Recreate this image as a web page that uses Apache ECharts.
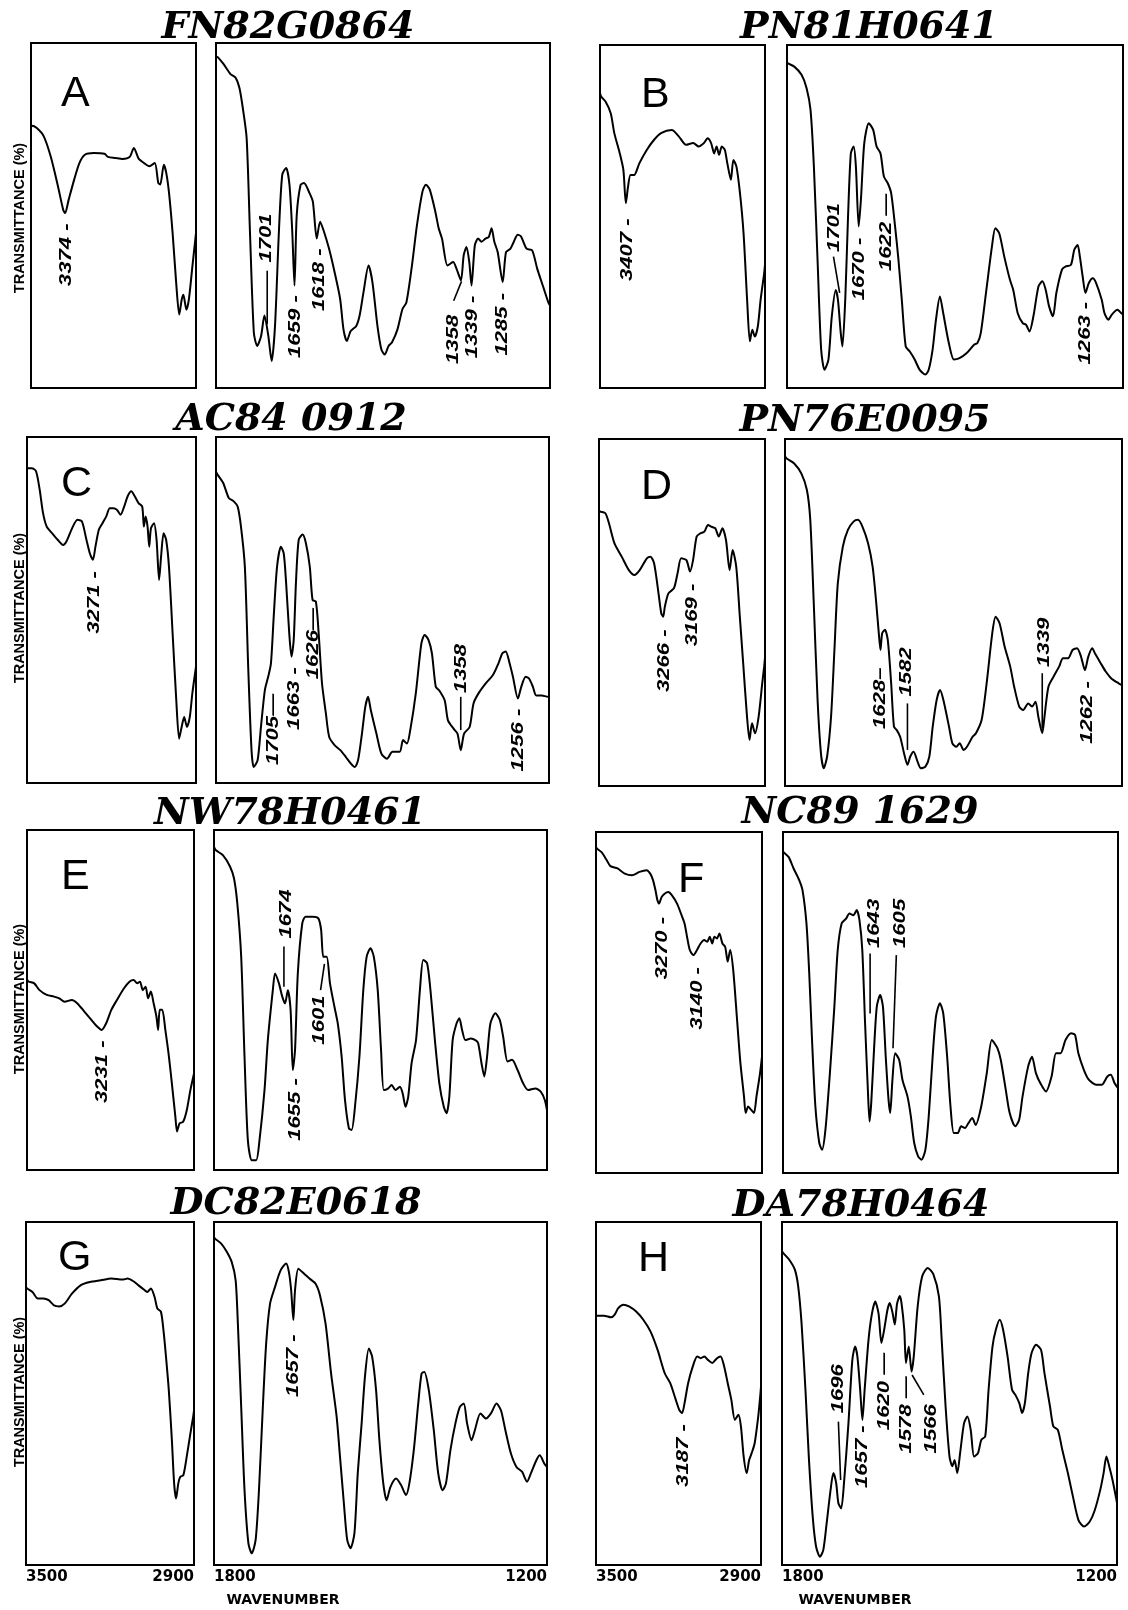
<!DOCTYPE html>
<html><head><meta charset="utf-8">
<script src="https://cdn.jsdelivr.net/npm/echarts@6/dist/echarts.min.js"></script>
<style>html,body{margin:0;padding:0;background:#fff}#c{width:1128px;height:1610px}</style>
</head><body><div id="c"></div>
<script>
// ---------- text ----------
const titles = ['FN82G0864','PN81H0641','AC84 0912','PN76E0095','NW78H0461','NC89 1629','DC82E0618','DA78H0464'];
const letters = ['A','B','C','D','E','F','G','H'];
const yAxisName = 'TRANSMITTANCE (%)';
const xAxisName = 'WAVENUMBER';
const xTicksCH = [2900, 3500];
const xTicksFP = [1200, 1800];

// ---------- spectra: [wavenumber, transmittance (0-100 of box)] ----------
const specA_CH = [[3500,76],[3497,76],[3480,75.4],[3454,73],[3428,67],[3402,58.5],[3383,51.7],[3376,50.7],[3363,54.6],[3343,60.4],[3324,65.2],[3304,67.6],[3272,68.1],[3233,67.9],[3220,67],[3193,66.7],[3167,66.4],[3141,67],[3126,69.6],[3108,66.4],[3089,65.2],[3070,64.3],[3050,65.2],[3037,59.4],[3030,59],[3017,64.7],[3008,62.3],[2998,56.5],[2985,44.9],[2972,30.4],[2961,21.3],[2952,25.6],[2946,27],[2935,22.7],[2926,25.6],[2913,35.3],[2900,44.9]];
const specA_FP = [[1800,96],[1797,95.9],[1787,94],[1774,91],[1765,90],[1758,87],[1752,81.3],[1745,72.5],[1739,45.3],[1732,16],[1726,12.2],[1719,15.1],[1713,21],[1706,15.1],[1700,7.8],[1694,18],[1687,45.3],[1681,61.8],[1674,63.8],[1668,58.9],[1663,45.3],[1659,29.7],[1655,50],[1648,58.9],[1642,59.4],[1632,56.5],[1626,54],[1619,43.3],[1613,48.2],[1606,45.3],[1597,40.4],[1587,33.6],[1577,25.8],[1571,17],[1565,13.6],[1558,16.5],[1548,18],[1542,21],[1535,27.8],[1526,35.5],[1519,30.7],[1510,18],[1503,11.2],[1497,9.7],[1490,12.2],[1484,13.2],[1474,17],[1465,22.9],[1458,24.8],[1448,35.5],[1439,47.2],[1429,57],[1423,58.9],[1416,57.5],[1406,51.1],[1400,46.3],[1394,43.3],[1384,35.5],[1374,36.5],[1368,34.6],[1360,31.2],[1355,38.5],[1350,40.9],[1345,36.5],[1341,29.7],[1335,41.4],[1329,43.3],[1323,42.4],[1316,43.3],[1310,43.8],[1305,46.3],[1300,42.4],[1294,39.4],[1285,30.7],[1279,39.4],[1271,40.4],[1265,42.4],[1258,44.4],[1252,43.9],[1242,40.4],[1232,39.9],[1223,34.6],[1213,29.7],[1203,24.8],[1200,23.9]];
const specB_CH = [[3500,86],[3496,85],[3480,83.5],[3461,80.1],[3448,74.3],[3428,68.4],[3415,63.6],[3406,53.9],[3398,58.7],[3389,62.1],[3376,62.1],[3357,65.5],[3330,69.4],[3304,72.3],[3278,74.3],[3239,75.2],[3213,73.3],[3187,70.9],[3161,71.4],[3141,70.4],[3122,71.4],[3109,72.8],[3096,71.4],[3085,68.4],[3076,70.4],[3067,68],[3057,70.4],[3046,69.4],[3037,65.5],[3024,60.7],[3015,66.5],[3004,64.6],[2991,56.8],[2978,45.1],[2965,25.7],[2955,13.6],[2946,17],[2937,15],[2926,18],[2916,25.7],[2903,33.5],[2900,36]];
const specB_FP = [[1800,95],[1799,94.7],[1787,93.7],[1774,91.3],[1765,87.4],[1758,81.1],[1752,64.6],[1745,35.4],[1739,11.2],[1733,5.3],[1726,8.3],[1720,20.9],[1713,28.6],[1709,25.7],[1704,16],[1701,12.1],[1696,25.7],[1691,50],[1686,68.4],[1681,70.4],[1677,64.6],[1672,47.1],[1668,54.9],[1662,71.4],[1654,77.2],[1646,75.2],[1640,70.4],[1633,68.4],[1627,61.7],[1620,59.7],[1614,56.8],[1607,47.1],[1601,37.4],[1595,25.7],[1588,12.1],[1581,10.7],[1572,8.3],[1563,5.3],[1553,3.9],[1547,5.3],[1540,11.2],[1534,19.9],[1527,26.7],[1521,21.8],[1511,13.1],[1502,8.3],[1492,8.7],[1479,10.2],[1466,12.6],[1460,13.1],[1454,16],[1444,28.6],[1434,41.3],[1428,46.6],[1421,45.1],[1412,38.3],[1402,31.6],[1396,28.6],[1388,21.8],[1379,18.9],[1373,18.4],[1367,16.5],[1360,20.9],[1351,29.6],[1344,31.1],[1338,28.6],[1332,23.8],[1325,20.9],[1319,27.7],[1309,34.5],[1303,35.4],[1293,35.9],[1287,40.3],[1281,41.7],[1277,38.3],[1272,32.5],[1267,27.7],[1261,30.6],[1254,32],[1248,30.6],[1238,25.7],[1233,21.8],[1226,19.9],[1220,21.4],[1210,22.8],[1203,21.8],[1200,21.5]];
const specC_CH = [[3500,91],[3483,91],[3468,90.1],[3455,84.8],[3443,78],[3430,74.1],[3411,72.2],[3391,70.3],[3372,68.8],[3360,69.8],[3340,73.6],[3321,76.1],[3305,75.6],[3289,70.3],[3277,66.4],[3266,64.5],[3257,68.3],[3245,73.2],[3232,75.1],[3219,77],[3206,79.4],[3194,79.4],[3181,79],[3168,77.5],[3155,79.9],[3143,82.8],[3130,84.3],[3117,82.8],[3104,80.9],[3091,79.9],[3085,74.1],[3079,77],[3072,74.1],[3066,68.3],[3060,73.6],[3049,75.1],[3040,70.3],[3031,58.7],[3024,65.4],[3015,72.2],[3006,70.3],[2996,62.5],[2983,43.2],[2970,23.9],[2960,12.8],[2951,16.2],[2942,19.1],[2932,16.2],[2922,19.1],[2913,25.9],[2900,33.6]];
const specC_FP = [[1800,90],[1797,89.1],[1787,86.7],[1777,82.4],[1768,81.4],[1761,79.9],[1755,74.1],[1748,62.5],[1742,33.6],[1736,9.5],[1732,4.6],[1725,6.6],[1719,16.2],[1712,26.8],[1706,30.7],[1701,34.6],[1696,48.1],[1690,62.5],[1683,68.3],[1678,66.4],[1674,58.7],[1668,43.2],[1664,36.5],[1660,41.3],[1656,57.7],[1651,70.3],[1644,71.8],[1638,69.3],[1631,62.5],[1626,52.9],[1620,52.4],[1615,43.2],[1609,28.8],[1602,20.1],[1596,13.3],[1586,10.9],[1576,9.5],[1566,7.5],[1557,5.6],[1550,4.6],[1544,6.6],[1537,14.3],[1531,22],[1526,24.9],[1521,21],[1511,14.3],[1502,8.5],[1492,7],[1482,9],[1469,9],[1463,12.4],[1456,11.4],[1450,15.3],[1440,25.9],[1430,40.3],[1424,42.8],[1417,41.3],[1411,37.5],[1404,27.8],[1398,26.8],[1388,23.9],[1382,18.1],[1372,15.7],[1365,14.3],[1359,9.5],[1353,14.3],[1343,16.2],[1336,23],[1327,25.9],[1314,28.8],[1301,31.2],[1291,34.6],[1284,37.5],[1278,38],[1271,34.6],[1265,30.7],[1256,24.4],[1250,27.8],[1242,30.7],[1236,30.2],[1229,27.8],[1223,25.3],[1213,25.3],[1202,24.9],[1200,24.9]];
const specD_CH = [[3500,79.5],[3496,79.1],[3477,78.6],[3464,75.7],[3444,69.9],[3418,66.1],[3392,62.2],[3372,60.8],[3353,62.2],[3327,65.6],[3314,66.1],[3301,64.2],[3288,57.4],[3275,49.8],[3268,48.8],[3262,51.7],[3249,55.5],[3229,57],[3216,61.3],[3203,65.6],[3184,65.1],[3171,61.8],[3160,65.1],[3147,71.9],[3134,72.8],[3119,73.3],[3106,75.2],[3093,74.7],[3080,74.3],[3067,71.9],[3054,74.3],[3041,70.9],[3028,62.2],[3017,68],[3004,63.2],[2991,48.8],[2978,34.4],[2965,20],[2956,13.3],[2947,18.1],[2936,15.2],[2923,20],[2910,29.6],[2903,34.4],[2900,37]];
const specD_FP = [[1800,95],[1797,94.4],[1784,93],[1771,90.1],[1761,85.3],[1755,76.7],[1749,53.6],[1742,24.8],[1736,9.4],[1731,5.1],[1725,8.5],[1718,20],[1712,39.2],[1706,58.4],[1697,69],[1688,73.8],[1678,76.2],[1670,76.7],[1662,74.7],[1652,69.9],[1644,63.2],[1638,53.6],[1633,44],[1630,39.2],[1627,44],[1622,45],[1617,42.1],[1611,29.6],[1606,17.1],[1601,16.1],[1595,14.2],[1588,9.4],[1582,6.1],[1577,8.5],[1571,9.9],[1564,7],[1558,5.1],[1550,5.6],[1543,8.5],[1537,17.1],[1530,24.8],[1524,27.7],[1518,24.8],[1508,17.1],[1502,12.3],[1495,11.3],[1489,12.3],[1482,10.4],[1476,11.3],[1466,14.2],[1460,15.2],[1450,19],[1441,29.6],[1431,44],[1425,48.8],[1418,46.9],[1409,40.2],[1399,34.4],[1392,28.6],[1383,22.9],[1376,21.9],[1367,23.8],[1360,22.9],[1354,24.3],[1349,20],[1342,15.2],[1338,20],[1331,28.6],[1322,31.5],[1312,34.4],[1305,36.8],[1296,36.8],[1288,39.2],[1280,39.7],[1273,37.3],[1266,33.4],[1260,37.3],[1253,39.7],[1248,38.2],[1238,35.4],[1229,33],[1219,31],[1206,29.6],[1200,29.1]];
const specE_CH = [[3500,56],[3494,55.4],[3474,54.9],[3455,52.9],[3429,51.5],[3403,51],[3384,50.5],[3365,49.5],[3339,50],[3319,49],[3294,46.6],[3268,44.1],[3248,42.2],[3232,41.2],[3216,43.1],[3197,47.1],[3177,50],[3152,53.4],[3132,55.4],[3117,55.9],[3104,54.9],[3094,55.4],[3084,52.9],[3074,53.9],[3065,50.5],[3055,52.5],[3045,49],[3035,45.1],[3029,41.2],[3023,47.1],[3014,47.1],[3003,41.2],[2990,33.3],[2977,23.5],[2967,15.7],[2961,11.3],[2952,13.7],[2939,14.2],[2926,17.6],[2913,23.5],[2900,28.4]];
const specE_FP = [[1800,95],[1797,94.1],[1784,92.6],[1771,89.2],[1764,85.8],[1758,78.4],[1751,62.7],[1745,33.3],[1739,8.8],[1732,2.9],[1724,2.9],[1718,8.8],[1709,23.5],[1703,38.2],[1694,52.9],[1690,57.8],[1683,54.9],[1677,51],[1672,49],[1667,52.9],[1662,47.1],[1658,29.4],[1654,35.3],[1649,57.8],[1641,72.5],[1635,74.5],[1622,74.5],[1612,74],[1607,70.6],[1603,62.7],[1597,62.7],[1591,54.9],[1583,48],[1577,43.1],[1570,33.3],[1564,20.6],[1557,12.3],[1552,11.8],[1546,18.6],[1538,33.3],[1531,52.9],[1525,62.7],[1518,65.2],[1512,62.7],[1505,52.9],[1499,35.3],[1494,23.5],[1486,24],[1480,25],[1473,23.5],[1465,24.5],[1460,22.5],[1455,18.6],[1450,21.6],[1444,31.4],[1436,38.2],[1429,52.9],[1423,61.8],[1416,60.8],[1410,52.9],[1402,38.2],[1394,25.5],[1386,18.6],[1381,16.7],[1376,21.6],[1370,38.2],[1363,43.1],[1358,44.6],[1353,41.2],[1347,38.2],[1337,38.7],[1329,38.2],[1324,37.3],[1318,31.4],[1313,27.5],[1308,33.3],[1302,43.1],[1293,46.1],[1285,44.1],[1279,39.2],[1271,31.9],[1263,32.4],[1253,29.4],[1243,25.5],[1234,23.5],[1221,24],[1211,23],[1204,20.6],[1200,17.6]];
const specF_CH = [[3500,95.5],[3496,95.1],[3480,94.1],[3461,91.7],[3448,90],[3422,89.3],[3396,87.8],[3370,87.3],[3343,88.3],[3317,88.8],[3304,87.8],[3294,85.9],[3285,82.9],[3278,80],[3272,79],[3263,80.9],[3252,81.9],[3239,82.4],[3226,81.5],[3207,79],[3193,76.1],[3180,73.2],[3171,69.3],[3161,65.4],[3148,63.9],[3135,65.4],[3122,67.3],[3109,68.3],[3098,67.8],[3089,69.3],[3080,67.3],[3072,69.3],[3063,68.8],[3054,70.2],[3043,67.3],[3033,66.3],[3024,62],[3015,65.4],[3004,59.5],[2991,45.9],[2978,32.2],[2965,22.4],[2959,17.6],[2950,19.5],[2939,18.5],[2929,17.6],[2920,22.4],[2907,29.3],[2900,34.1]];
const specF_FP = [[1800,94.5],[1799,94.1],[1790,92.7],[1781,89.3],[1771,85.9],[1765,82.9],[1758,73.2],[1753,58.5],[1748,39],[1742,19.5],[1735,8.8],[1730,6.8],[1724,12.7],[1716,29.3],[1708,48.8],[1702,65.4],[1695,73.2],[1687,74.6],[1681,76.1],[1674,75.6],[1668,77.1],[1663,74.1],[1658,65.4],[1653,43.9],[1648,24.4],[1645,15.1],[1642,20.5],[1637,36.1],[1632,48.8],[1626,52.2],[1621,48.8],[1616,34.1],[1611,21.5],[1608,17.6],[1604,27.3],[1599,35.1],[1592,33.2],[1586,27.3],[1577,22.4],[1571,16.6],[1565,8.8],[1558,4.9],[1552,3.9],[1545,6.8],[1539,16.6],[1532,34.1],[1526,45.9],[1519,49.8],[1513,46.8],[1506,34.1],[1500,19.5],[1494,11.7],[1487,11.7],[1481,13.7],[1474,13.2],[1468,14.6],[1461,16.1],[1455,14.1],[1445,19.5],[1435,29.3],[1426,39],[1416,36.6],[1410,33.2],[1401,24.4],[1394,17.6],[1384,13.7],[1377,15.6],[1371,22.4],[1361,31.2],[1354,34.1],[1347,29.3],[1339,26.3],[1329,23.9],[1319,28.3],[1311,35.1],[1303,35.1],[1294,39],[1284,41],[1277,40.5],[1271,35.1],[1261,30.2],[1252,27.3],[1239,25.9],[1229,25.9],[1219,28.3],[1213,28.8],[1206,26.3],[1200,24.9]];
const specG_CH = [[3500,81],[3496,80.6],[3477,79.6],[3458,77.7],[3438,77.7],[3419,77.2],[3400,75.7],[3381,75.4],[3362,76.2],[3336,79.1],[3304,81.6],[3272,82.5],[3233,83],[3195,83.5],[3156,83.2],[3137,83.5],[3118,82.8],[3099,81.6],[3079,80.3],[3067,79.6],[3054,80.6],[3041,78.2],[3031,74.8],[3018,73.8],[3009,68.4],[3000,60.7],[2990,51],[2979,36.4],[2971,23.8],[2964,19.4],[2956,23.8],[2949,25.7],[2938,26.2],[2926,31.6],[2913,38.3],[2903,43.2],[2900,45]];
const specG_FP = [[1800,95.5],[1798,95.1],[1787,93.7],[1777,91.3],[1768,88.3],[1761,83],[1757,70.4],[1751,46.1],[1745,21.8],[1738,6.3],[1732,3.4],[1725,7.3],[1719,21.8],[1712,46.1],[1706,64.6],[1699,76.2],[1690,81.1],[1680,85.9],[1670,87.9],[1665,85.4],[1661,80.1],[1657,71.4],[1654,80.1],[1648,86.4],[1638,85],[1628,83.5],[1617,82],[1609,78.6],[1599,70.4],[1589,55.8],[1579,43.2],[1573,31.6],[1566,18],[1560,7.3],[1554,4.9],[1547,9.2],[1541,26.7],[1534,41.3],[1528,54.9],[1521,63.1],[1515,60.7],[1508,51],[1502,36.4],[1495,23.8],[1489,18.9],[1482,22.8],[1472,25.2],[1463,23.3],[1454,20.4],[1448,23.8],[1440,33.5],[1432,47.1],[1426,55.8],[1421,56.3],[1413,51],[1404,39.3],[1396,26.7],[1388,21.8],[1382,23.8],[1374,33.5],[1365,41.3],[1357,46.1],[1350,47.1],[1344,41.3],[1336,36.4],[1330,39.3],[1320,44.2],[1310,42.7],[1301,44.2],[1291,47.1],[1283,45.1],[1275,39.3],[1265,32.5],[1255,28.6],[1245,27.2],[1236,24.3],[1229,26.7],[1219,30.6],[1213,32],[1205,29.6],[1200,28.6]];
const specH_CH = [[3500,72.7],[3497,72.7],[3471,72.7],[3445,72.2],[3432,73],[3419,74.9],[3400,75.9],[3380,75.4],[3354,73.9],[3328,71.5],[3302,68.1],[3276,62.7],[3250,55.9],[3230,53],[3210,48.2],[3197,45.2],[3187,44.3],[3178,47.2],[3165,53],[3148,57.9],[3132,60.8],[3119,60.3],[3106,60.8],[3093,59.8],[3077,58.9],[3060,60.3],[3047,60.8],[3034,57.9],[3021,53],[3008,48.2],[2995,42.3],[2982,43.8],[2973,40.4],[2963,31.6],[2952,26.8],[2943,30.6],[2934,32.6],[2923,35.5],[2910,43.3],[2903,49.1],[2900,52]];
const specH_FP = [[1800,91.5],[1798,91],[1787,89],[1777,86.1],[1771,81.2],[1765,70.5],[1758,51.1],[1752,31.6],[1745,14.1],[1739,5.4],[1732,2.4],[1726,4.4],[1720,12.2],[1713,21.9],[1708,26.8],[1703,23.9],[1699,18],[1694,16.5],[1689,23.8],[1681,41.3],[1674,59.8],[1669,63.7],[1665,60.8],[1660,51.1],[1656,42.3],[1652,51.1],[1645,65.7],[1639,73.2],[1633,76.8],[1627,73.2],[1622,64.7],[1617,68.6],[1611,74.5],[1607,76.4],[1602,73.5],[1598,70.1],[1594,76.1],[1589,78.4],[1586,76.4],[1581,68.6],[1578,58.9],[1573,63.7],[1568,56.4],[1564,60.8],[1557,75.4],[1549,84.1],[1539,86.6],[1529,84.8],[1519,78.3],[1514,65.7],[1507,46.2],[1500,31.6],[1495,28.8],[1491,30.6],[1486,26.8],[1481,32.6],[1474,41.3],[1468,43.3],[1462,39.4],[1456,31.6],[1449,32.6],[1443,36.5],[1436,37.5],[1430,51.1],[1423,63.7],[1417,68.6],[1410,71.5],[1404,68.6],[1396,60.8],[1388,51.1],[1382,49.6],[1375,47.2],[1370,44.3],[1365,47.2],[1359,56],[1353,61.8],[1345,64.2],[1336,62.7],[1330,56],[1320,46.2],[1314,40.4],[1306,39.4],[1298,33.6],[1288,26.8],[1279,20],[1269,13.1],[1259,11.2],[1249,12.6],[1240,15.9],[1230,21.9],[1224,26.8],[1219,31.6],[1214,28.8],[1208,24.8],[1201,19],[1200,18]];

// ---------- peak annotations: [text, wavenumber, transmittance] ----------
const annA_CH = [['3374 -',3372,38.6]];
const annA_FP = [['1701',1710,43.5],['1659 -',1657,17.8],['1618 -',1615,31.4],['1358',1373,14.1],['1339 -',1340,17.7],['1285 -',1285,18.5]];
const annB_CH = [['3407 -',3402,40.3]];
const annB_FP = [['1701',1715,46.8],['1670 -',1670,34.7],['1622 \u2014',1622,45.4],['1263 -',1267,16]];
const annC_CH = [['3271 -',3261,52.2]];
const annC_FP = [['1705\u2014',1696,15.5],['1663 -',1659,24.4],['1626\u2014',1625,40.3],['1358',1358,33.1],['1256 -',1255,12.4]];
const annD_CH = [['3266 -',3264,36.1],['3169 -',3164,49.3]];
const annD_FP = [['1628\u2013',1630,25.3],['1582',1584,32.9],['1339',1338,41.4],['1262 -',1262,21.2]];
const annE_CH = [['3231 -',3229,28.9]];
const annE_FP = [['1674',1669,75.3],['1655 -',1654,17.8],['1601',1610,44.1]];
const annF_CH = [['3270 -',3259,65.9],['3140 -',3135,51.2]];
const annF_FP = [['1643',1637,73.2],['1605',1589,73.2]];
const annG_CH = [];
const annG_FP = [['1657 -',1657,58.1]];
const annH_CH = [['3187 -',3184,31.9]];
const annH_FP = [['1696',1700,51.4],['1657 -',1656,31.6],['1620 \u2014',1617,50.6],['1578 \u2014',1577,43.8],['1566',1533,39.7]];
// leader lines: [wn1, T1, wn2, T2]
const leadA_FP = [[1708,34,1708,18.5],[1359,30.9,1373,25.3]];
const leadB_FP = [[1717,38.3,1706,27.7]];
const leadC_FP = [[1359,24.9,1359,15.3]];
const leadD_FP = [[1582,23.8,1582,10.4],[1342,32.5,1342,16.6]];
const leadE_FP = [[1674,65.7,1674,53.9],[1601,60.6,1608,52.9]];
const leadF_FP = [[1644,64.4,1644,46.8],[1597,63.9,1603,36.6]];
const leadH_FP = [[1699,41.8,1695,24.8],[1567,55.4,1546,49.6]];

// ---------- layout ----------
const boxes = [
  {l:[31,196], r:[216,550], y:[43,388], t:[288,28], k:[61,94]},
  {l:[600,765], r:[787,1123], y:[45,388], t:[869,28], k:[641,95]},
  {l:[27,196], r:[216,549], y:[437,783], t:[291,420], k:[61,484]},
  {l:[599,765], r:[785,1122], y:[439,786], t:[865,421], k:[641,487]},
  {l:[27,194], r:[214,547], y:[830,1170], t:[290,814], k:[61,877]},
  {l:[596,762], r:[783,1118], y:[832,1173], t:[860,813], k:[678,880]},
  {l:[26,194], r:[214,547], y:[1222,1565], t:[296,1204], k:[58,1258]},
  {l:[596,761], r:[782,1117], y:[1222,1565], t:[861,1206], k:[638,1259]}
];
const ylabY = [218, 608, 999, 1392];

const panels = [
  [specA_CH, specA_FP, annA_CH, annA_FP, [], leadA_FP],
  [specB_CH, specB_FP, annB_CH, annB_FP, [], leadB_FP],
  [specC_CH, specC_FP, annC_CH, annC_FP, [], leadC_FP],
  [specD_CH, specD_FP, annD_CH, annD_FP, [], leadD_FP],
  [specE_CH, specE_FP, annE_CH, annE_FP, [], leadE_FP],
  [specF_CH, specF_FP, annF_CH, annF_FP, [], leadF_FP],
  [specG_CH, specG_FP, annG_CH, annG_FP, [], []],
  [specH_CH, specH_FP, annH_CH, annH_FP, [], leadH_FP]
];

const chart = echarts.init(document.getElementById('c'), null, {renderer:'canvas', width:1128, height:1610});
const grids = [], xAxes = [], yAxes = [], series = [], graphics = [];
const annFont = 'italic bold 17px "Liberation Sans", Arial, sans-serif';

panels.forEach((p, i) => {
  const b = boxes[i];
  const halves = [
    {x: b.l, spec: p[0], ann: p[2], lead: p[4], min: 2900, max: 3500, ticks: xTicksCH},
    {x: b.r, spec: p[1], ann: p[3], lead: p[5], min: 1200, max: 1800, ticks: xTicksFP}
  ];
  halves.forEach((h, j) => {
    const gi = i * 2 + j;
    grids.push({left: h.x[0], top: b.y[0], width: h.x[1] - h.x[0], height: b.y[1] - b.y[0],
      show: true, borderColor: '#000', borderWidth: 2, backgroundColor: 'transparent',
      containLabel: false, outerBoundsMode: 'none'});
    xAxes.push({type: 'value', gridIndex: gi, min: h.min, max: h.max, inverse: true,
      axisLine: {show: false}, axisTick: {show: false}, splitLine: {show: false},
      axisLabel: i >= 6 ? {show: true, customValues: h.ticks, formatter: v => String(v), color: '#000',
        fontSize: 15, fontWeight: 'bold', fontFamily: '"DejaVu Sans", sans-serif', margin: 5,
        alignMinLabel: 'right', alignMaxLabel: 'left'} : {show: false}});
    yAxes.push({type: 'value', gridIndex: gi, min: 0, max: 100, show: false});
    series.push({type: 'line', xAxisIndex: gi, yAxisIndex: gi, data: h.spec, showSymbol: false, symbol: 'none',
      smooth: 0.25, lineStyle: {color: '#000', width: 2}, silent: true, animation: false});
    if (h.ann.length) {
      const ann = h.ann;
      series.push({type: 'custom', xAxisIndex: gi, yAxisIndex: gi, silent: true, animation: false,
        data: ann.map(a => [a[1], a[2]]),
        renderItem: (params, api) => {
          const pt = api.coord([api.value(0), api.value(1)]);
          return {type: 'text', x: pt[0], y: pt[1], rotation: Math.PI / 2, scaleX: 1.3,
            style: {text: ann[params.dataIndex][0], font: annFont, fill: '#000',
              align: 'center', verticalAlign: 'middle', textAlign: 'center', textVerticalAlign: 'middle'}};
        }});
    }
    if (h.lead.length) {
      series.push({type: 'custom', xAxisIndex: gi, yAxisIndex: gi, silent: true, animation: false,
        data: h.lead, encode: {x: [0, 2], y: [1, 3]},
        renderItem: (params, api) => {
          const a = api.coord([api.value(0), api.value(1)]);
          const c = api.coord([api.value(2), api.value(3)]);
          return {type: 'line', shape: {x1: a[0], y1: a[1], x2: c[0], y2: c[1]},
            style: {stroke: '#000', lineWidth: 1.6}};
        }});
    }
  });
  graphics.push({type: 'text', x: b.t[0], y: b.t[1], z: 10,
    style: {text: titles[i], font: 'italic bold 38px "DejaVu Serif", serif', fill: '#000',
      align: 'center', verticalAlign: 'middle', textAlign: 'center', textVerticalAlign: 'middle'}});
  graphics.push({type: 'text', x: b.k[0], y: b.k[1], z: 10,
    style: {text: letters[i], font: '43px "Liberation Sans", Arial, sans-serif', fill: '#000',
      align: 'left', verticalAlign: 'middle', textAlign: 'left', textVerticalAlign: 'middle'}});
});
ylabY.forEach(y => graphics.push({type: 'text', x: 20, y: y, rotation: Math.PI / 2, z: 10,
  style: {text: yAxisName, font: 'bold 14.5px "Liberation Sans", Arial, sans-serif', fill: '#000',
    align: 'center', verticalAlign: 'middle', textAlign: 'center', textVerticalAlign: 'middle'}}));
[283, 855].forEach(x => graphics.push({type: 'text', x: x, y: 1600, z: 10,
  style: {text: xAxisName, font: 'bold 14px "DejaVu Sans", sans-serif', fill: '#000',
    align: 'center', verticalAlign: 'middle', textAlign: 'center', textVerticalAlign: 'middle'}}));

chart.setOption({backgroundColor: '#fff', animation: false, grid: grids, xAxis: xAxes, yAxis: yAxes,
  series: series, graphic: {elements: graphics}});
</script>
</body></html>
